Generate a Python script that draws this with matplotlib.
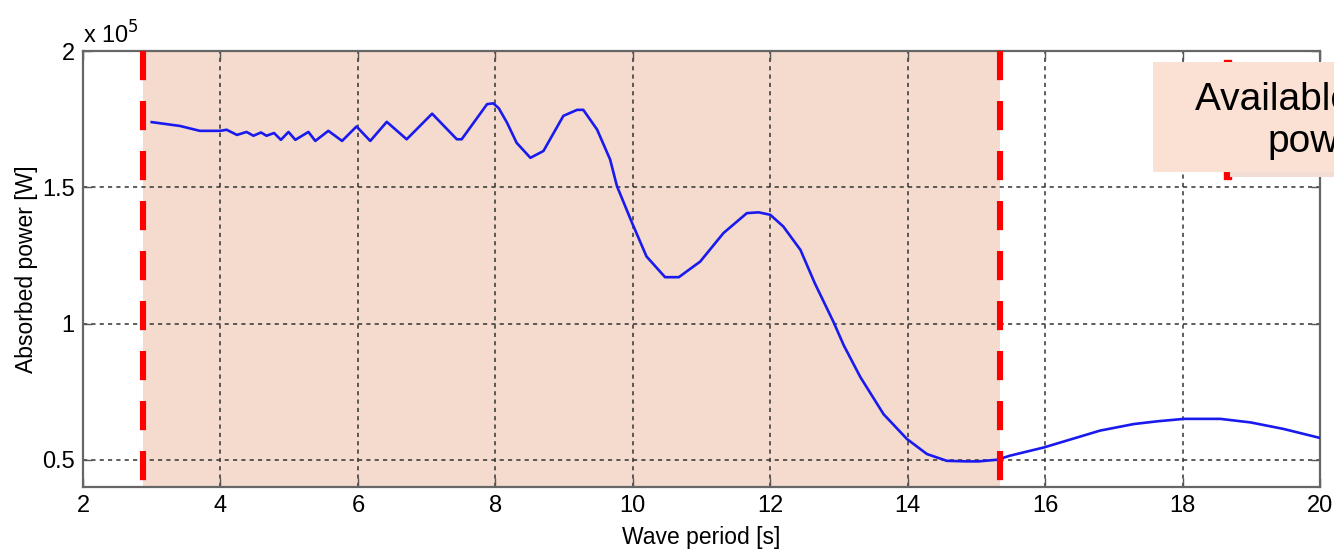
import matplotlib
matplotlib.use("Agg")
import matplotlib.pyplot as plt
from matplotlib.patches import Rectangle
from matplotlib.ticker import FuncFormatter

plt.rcParams['font.family'] = ['Liberation Sans', 'DejaVu Sans']
plt.rcParams['lines.scale_dashes'] = False

# Absorbed power versus wave period
period_s = [3.00, 3.41, 3.70, 4.00, 4.09, 4.24, 4.38, 4.48, 4.59, 4.67, 4.78,
            4.88, 4.99, 5.09, 5.28, 5.38, 5.57, 5.77, 5.98, 6.18, 6.42, 6.71,
            7.08, 7.44, 7.51, 7.88, 7.97, 8.05, 8.17, 8.31, 8.51, 8.70, 8.99,
            9.19, 9.28, 9.48, 9.67, 9.77, 9.99, 10.20, 10.47, 10.67, 10.98,
            11.32, 11.66, 11.83, 12.00, 12.19, 12.44, 12.65, 12.92, 13.07,
            13.31, 13.65, 13.99, 14.28, 14.57, 14.86, 15.03, 15.30, 15.49,
            15.98, 16.80, 17.29, 17.63, 18.02, 18.55, 18.99, 19.47, 20.00]
power_1e5_w = [1.739, 1.725, 1.707, 1.707, 1.711, 1.692, 1.703, 1.689, 1.701,
               1.689, 1.699, 1.674, 1.703, 1.674, 1.703, 1.670, 1.707, 1.670,
               1.723, 1.670, 1.740, 1.676, 1.770, 1.676, 1.676, 1.805, 1.808,
               1.790, 1.737, 1.663, 1.608, 1.633, 1.762, 1.784, 1.784, 1.712,
               1.602, 1.504, 1.369, 1.246, 1.170, 1.170, 1.227, 1.332, 1.405,
               1.408, 1.399, 1.356, 1.270, 1.147, 1.006, 0.920, 0.804, 0.667,
               0.576, 0.521, 0.496, 0.494, 0.494, 0.500, 0.515, 0.545, 0.607,
               0.631, 0.641, 0.650, 0.650, 0.637, 0.613, 0.580]
power_w = [p * 1e5 for p in power_1e5_w]

# Available-power band limits
band_start = 2.866
band_end = 15.35

x_ticks = [2, 4, 6, 8, 10, 12, 14, 16, 18, 20]
y_ticks = [0.5e5, 1.0e5, 1.5e5, 2.0e5]

W, H = 1334, 554
fig = plt.figure(figsize=(W / 100, H / 100), dpi=100)
ax = fig.add_axes([83 / W, 67 / H, (1320 - 83) / W, (487 - 51) / H])

ax.axvspan(band_start, band_end, color='#f4dbce', zorder=0.5, lw=0)
ax.grid(True, color='#333333', linestyle=(0, (3, 3)), linewidth=1.1)
ax.set_axisbelow('line')

ax.plot(period_s, power_w, color='#1a1aee', lw=1.9, zorder=3,
        solid_joinstyle='round')

for xv in (band_start, band_end):
    ax.plot([xv, xv], [2.0e5, 0.4e5], color='#ff0000', lw=4.4,
            linestyle=(0, (21, 15)), solid_capstyle='butt',
            dash_capstyle='butt', zorder=4, clip_on=False)

ax.set_xlim(2, 20)
ax.set_ylim(0.4e5, 2.0e5)
ax.set_xticks(x_ticks)
ax.set_yticks(y_ticks)
ax.yaxis.set_major_formatter(FuncFormatter(lambda v, _: f"{v / 1e5:g}"))
ax.tick_params(direction='in', length=6.5, width=1.0, color='#555555',
               top=True, right=True, labelsize=17, pad=6)

for s in ax.spines.values():
    s.set_color('#666666')
    s.set_linewidth(1.6)

ax.set_xlabel('Wave period [s]', fontsize=16.5, labelpad=6)
ax.set_ylabel('Absorbed power [W]', fontsize=16.5, labelpad=3)
fig.text(83 / W, (H - 44) / H, r'x 10$^{5}$', fontsize=17, ha='left',
         va='baseline')

# Annotation box in the top-right corner
fig.patches.append(Rectangle((1224 / W, (H - 179) / H), 7 / W, 118.5 / H,
                             transform=fig.transFigure, color='#ff0000',
                             zorder=5))
fig.patches.append(Rectangle((1230 / W, (H - 177) / H), 110 / W, 6 / H,
                             transform=fig.transFigure, color='#f2ddd4',
                             lw=0, zorder=5))
fig.patches.append(Rectangle((1153 / W, (H - 172) / H), 200 / W, 110 / H,
                             transform=fig.transFigure, color='#fbe0d4',
                             lw=0, zorder=6))
fig.text(1195 / W, (H - 110) / H, 'Available wave', fontsize=28,
         ha='left', va='baseline', zorder=7)
fig.text(1267 / W, (H - 152) / H, 'power', fontsize=28,
         ha='left', va='baseline', zorder=7)

fig.savefig('out.png', dpi=100)
